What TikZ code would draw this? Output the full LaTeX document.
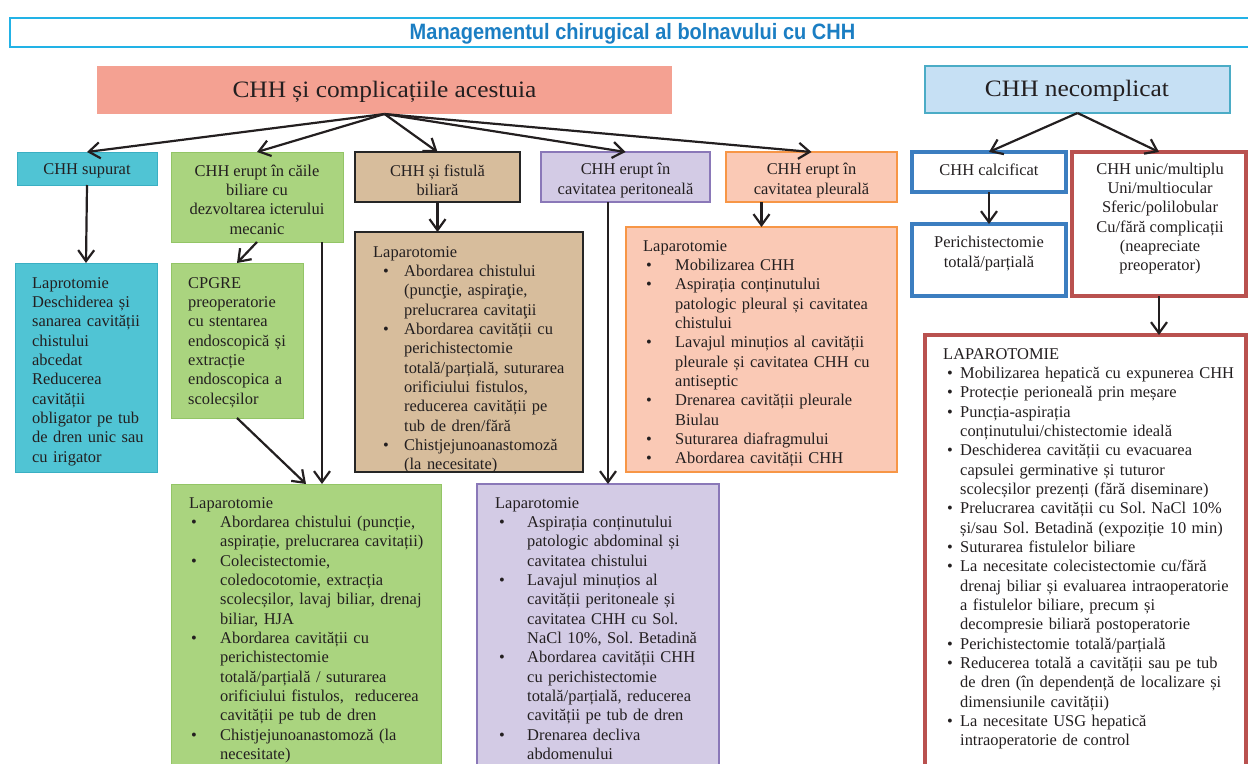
\documentclass[tikz,border=0pt]{standalone}
\usepackage{fontspec}
\setmainfont{Liberation Serif}
\newfontfamily\titlefont[FakeStretch=0.9]{Liberation Sans}
\newfontfamily\headfont[FakeStretch=1.08]{Liberation Serif}
\usetikzlibrary{arrows.meta,fit}

\definecolor{titleline}{HTML}{22B2E6}
\definecolor{titleink}{HTML}{1B7EC3}
\definecolor{salmon}{HTML}{F4A192}
\definecolor{necfill}{HTML}{C6E0F4}
\definecolor{necline}{HTML}{4BACC6}
\definecolor{cyanfill}{HTML}{50C4D4}
\definecolor{cyanline}{HTML}{3AAFC3}
\definecolor{greenfill}{HTML}{AAD47F}
\definecolor{greenline}{HTML}{93C566}
\definecolor{tanfill}{HTML}{D7BD9C}
\definecolor{tanline}{HTML}{262626}
\definecolor{lavfill}{HTML}{D3CBE5}
\definecolor{lavline}{HTML}{8A78B8}
\definecolor{peachfill}{HTML}{FAC9B5}
\definecolor{peachline}{HTML}{F79646}
\definecolor{blueline}{HTML}{3C7EC0}
\definecolor{redline}{HTML}{B9514F}
\definecolor{ink}{HTML}{231F20}

\setlength\parindent{0pt}
\frenchspacing
\newlength\bind
\newlength\boff
% bullet item with hanging indent; line breaks inside an item use \newline
\newcommand\bl[1]{\par\hangindent=\bind\hangafter=1\noindent\makebox[\bind][l]{\hspace{\boff}\textbullet}#1\par}
\newcommand\setbul[2]{\setlength\bind{#1}\setlength\boff{#2}}

\begin{document}
\begin{tikzpicture}[x=1bp,y=-1bp,
  panel/.style={inner sep=0pt, outer sep=0pt},
  salmonbox/.style={panel, fill=salmon},
  necbox/.style={panel, fill=necfill, draw=necline, line width=1.5bp},
  cyanbox/.style={panel, fill=cyanfill, draw=cyanline, line width=1bp},
  greenbox/.style={panel, fill=greenfill, draw=greenline, line width=1bp},
  tanbox/.style={panel, fill=tanfill, draw=tanline, line width=2bp},
  lavbox/.style={panel, fill=lavfill, draw=lavline, line width=1.2bp},
  peachbox/.style={panel, fill=peachfill, draw=peachline, line width=1.2bp},
  bluebox/.style={panel, fill=white, draw=blueline, line width=4bp},
  redbox/.style={panel, fill=white, draw=redline, line width=4bp},
  head/.style={inner sep=0pt, text=ink, font=\headfont\fontsize{23.6}{28}\selectfont},
  ctext/.style={inner sep=0pt, text=ink, align=center, font=\fontsize{16.5}{19.4}\selectfont},
  ltext/.style={inner sep=0pt, text=ink, anchor=north west, align=left, text width=330bp,
    font=\fontsize{16.5}{19.4}\selectfont, execute at begin node={\strut}},
  arr/.style={draw=ink, line width=2.2bp, -{Straight Barb[length=11bp,width=16bp]}}
]
\useasboundingbox (0,0) rectangle (1248,764);
\clip (0,0) rectangle (1248,764);

% title band
\node[panel, draw=titleline, line width=2bp, fit={(10,18) (1252,47.5)}] (titlebox) {};
\node[inner sep=0pt, text=titleink, font=\titlefont\bfseries\fontsize{22.3}{26}\selectfont] (title) at (632.5,34) {Managementul chirugical al bolnavului cu CHH};

% two main branches
\node[salmonbox, fit={(97,66) (672,114)}] (cmp) {};
\node[head] (cmpt) at (384.5,91.5) {CHH și complicațiile acestuia};
\node[necbox, fit={(925,66) (1230,113)}] (nec) {};
\node[head] (nect) at (1077,91) {CHH necomplicat};

% second row
\node[cyanbox, fit={(17,152) (157,185)}] (sup) {};
\node[ctext] (supt) at (87,171) {CHH supurat};
\node[greenbox, fit={(171,152) (343,242)}] (gtop) {};
\node[ctext] (gtopt) at (257,199.5) {CHH erupt în căile\\biliare cu\\dezvoltarea icterului\\mecanic};
\node[tanbox, fit={(355,152) (520,202)}] (ttop) {};
\node[ctext] (ttopt) at (437.5,180.5) {CHH și fistulă\\biliară};
\node[lavbox, fit={(541,152) (710,202)}] (ltop) {};
\node[ctext] (ltopt) at (625.5,180.5) {CHH erupt în\\cavitatea peritoneală};
\node[peachbox, fit={(726,152) (897,202)}] (ptop) {};
\node[ctext] (ptopt) at (811.5,180.5) {CHH erupt în\\cavitatea pleurală};
\node[bluebox, fit={(912,152) (1066,192)}] (calc) {};
\node[ctext] (calct) at (989,170) {CHH calcificat};
\node[redbox, fit={(1072,152) (1246,296)}] (unic) {};
\node[ctext] (unict) at (1160,218.5) {CHH unic/multiplu\\Uni/multiocular\\Sferic/polilobular\\Cu/fără complicații\\(neapreciate\\preoperator)};

% third row
\node[cyanbox, fit={(15,263) (157,472)}] (lap) {};
\node[ltext] (lapt) at (32,274.4) {Laprotomie\newline Deschiderea și\newline sanarea cavității\newline chistului\newline abcedat\newline Reducerea\newline cavității\newline obligator pe tub\newline de dren unic sau\newline cu irigator};

\node[greenbox, fit={(171,263) (303,418)}] (cpg) {};
\node[ltext] (cpgt) at (188,274.4) {CPGRE\newline preoperatorie\newline cu stentarea\newline endoscopică și\newline extracție\newline endoscopica a\newline scolecșilor};

\node[tanbox, fit={(355,232) (583,472)}] (tbig) {};
\node[ltext] (tbigt) at (373,243.4) {\setbul{31bp}{10bp}Laparotomie
\bl{Abordarea chistului\newline (puncţie, aspiraţie,\newline prelucrarea cavitaţii}
\bl{Abordarea cavității cu\newline perichistectomie\newline totală/parțială, suturarea\newline orificiului fistulos,\newline reducerea cavității pe\newline tub de dren/fără}
\bl{Chistjejunoanastomoză\newline (la necesitate)}};

\node[peachbox, fit={(626,227) (897,472)}] (pbig) {};
\node[ltext] (pbigt) at (643,237.4) {\setbul{32bp}{3bp}Laparotomie
\bl{Mobilizarea CHH}
\bl{Aspirația conținutului\newline patologic pleural și cavitatea\newline chistului}
\bl{Lavajul minuțios al cavității\newline pleurale și cavitatea CHH cu\newline antiseptic}
\bl{Drenarea cavității pleurale\newline Biulau}
\bl{Suturarea diafragmului}
\bl{Abordarea cavității CHH}};

\node[bluebox, fit={(912,224) (1066,296)}] (peri) {};
\node[ctext] (perit) at (989,253.5) {Perichistectomie\\totală/parțială};

\node[redbox, fit={(925,335) (1246,790)}] (rbig) {};
\node[ltext] (rbigt) at (943,345.4) {\setbul{17bp}{4bp}LAPAROTOMIE
\bl{Mobilizarea hepatică cu expunerea CHH}
\bl{Protecție perioneală prin meșare}
\bl{Puncția-aspirația\newline conținutului/chistectomie ideală}
\bl{Deschiderea cavității cu evacuarea\newline capsulei germinative și tuturor\newline scolecșilor prezenți (fără diseminare)}
\bl{Prelucrarea cavității cu Sol. NaCl 10\%\newline și/sau Sol. Betadină (expoziție 10 min)}
\bl{Suturarea fistulelor biliare}
\bl{La necesitate colecistectomie cu/fără\newline drenaj biliar și evaluarea intraoperatorie\newline a fistulelor biliare, precum și\newline decompresie biliară postoperatorie}
\bl{Perichistectomie totală/parțială}
\bl{Reducerea totală a cavității sau pe tub\newline de dren (în dependență de localizare și\newline dimensiunile cavității)}
\bl{La necesitate USG hepatică\newline intraoperatorie de control}};

% fourth row
\node[greenbox, fit={(171,484) (441,790)}] (gbot) {};
\node[ltext] (gbott) at (189,494.4) {\setbul{31bp}{2bp}Laparotomie
\bl{Abordarea chistului (puncție,\newline aspirație, prelucrarea cavitații)}
\bl{Colecistectomie,\newline coledocotomie, extracția\newline scolecșilor, lavaj biliar, drenaj\newline biliar, HJA}
\bl{Abordarea cavității cu\newline perichistectomie\newline totală/parțială / suturarea\newline orificiului fistulos,\ \ reducerea\newline cavității pe tub de dren}
\bl{Chistjejunoanastomoză (la\newline necesitate)}};

\node[lavbox, fit={(477,484) (719,790)}] (lbot) {};
\node[ltext] (lbott) at (495,494.4) {\setbul{32bp}{4bp}Laparotomie
\bl{Aspirația conținutului\newline patologic abdominal și\newline cavitatea chistului}
\bl{Lavajul minuțios al\newline cavității peritoneale și\newline cavitatea CHH cu Sol.\newline NaCl 10\%, Sol. Betadină}
\bl{Abordarea cavității CHH\newline cu perichistectomie\newline totală/parțială, reducerea\newline cavității pe tub de dren}
\bl{Drenarea decliva\newline abdomenului}};

% drop lines that run beside the boxes
\coordinate (gx) at (322,0);
\coordinate (lx) at (608,0);

% connectors
\draw[arr] (cmp.south) -- (sup.north);
\draw[arr] (cmp.south) -- (gtop.north);
\draw[arr] (cmp.south) -- (ttop.north);
\draw[arr] (cmp.south) -- (ltop.north);
\draw[arr] (cmp.south) -- (ptop.north);
\draw[arr] (nec.south) -- (calc.north);
\draw[arr] (nec.south) -- (unic.north);
\draw[arr] (sup.south) -- (lap.north);
\draw[arr] (gtop.south) -- (cpg.north);
\draw[arr] (cpg.south) -- (gbot.north);
\draw[arr] (gtop.south -| gx) -- (gbot.north -| gx);
\draw[arr] (ttop.south) -- (ttop.south |- tbig.north);
\draw[arr] (ltop.south -| lx) -- (lbot.north -| lx);
\draw[arr] (ptop.south -| pbig.north) -- (pbig.north);
\draw[arr] (calc.south) -- (peri.north);
\draw[arr] (unic.south) -- (unic.south |- rbig.north);
\end{tikzpicture}
\end{document}
